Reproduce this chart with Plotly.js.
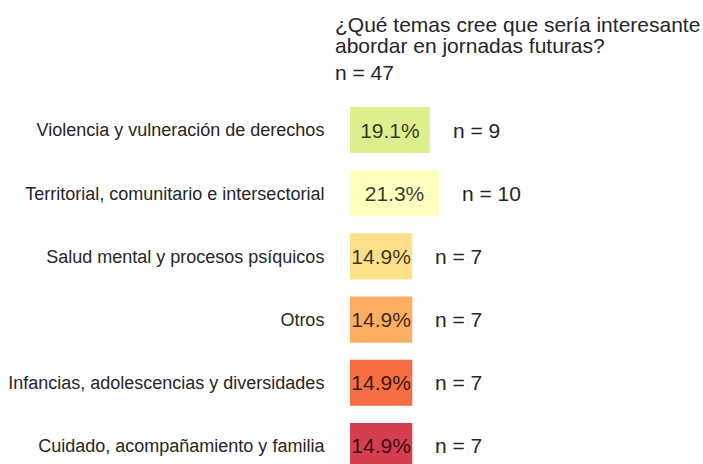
<!DOCTYPE html>
<html>
<head>
<meta charset="utf-8">
<script src="https://cdn.plot.ly/plotly-3.0.1.min.js"></script>
<style>html,body{margin:0;padding:0;background:#fff;}#chart{width:703px;height:464px;}</style>
</head>
<body>
<div id="chart"></div>
<script>
const categories = [
  "Violencia y vulneración de derechos",
  "Territorial, comunitario e intersectorial",
  "Salud mental y procesos psíquicos",
  "Otros",
  "Infancias, adolescencias y diversidades",
  "Cuidado, acompañamiento y familia"
];
const percents = [19.1, 21.3, 14.9, 14.9, 14.9, 14.9];
const counts = [9, 10, 7, 7, 7, 7];
const barColors = ["#dcef8e", "#ffffbf", "#fee08b", "#fdae61", "#f46d43", "#d53e4f"];
const titleLines = ["¿Qué temas cree que sería interesante", "abordar en jornadas futuras?", "n = 47"];

const FONT = "Liberation Sans, Arial, sans-serif";
const TXT = "#262626";

const trace = {
  type: "bar",
  orientation: "h",
  x: percents,
  y: categories,
  marker: {color: barColors, line: {width: 0}},
  text: percents.map(v => v.toFixed(1) + "%"),
  textposition: "inside",
  insidetextanchor: "middle",
  textangle: 0,
  constraintext: "none",
  textfont: {family: FONT, size: 21, color: "rgba(0,0,0,0.78)"},
  hoverinfo: "none",
  cliponaxis: true
};

const annotations = categories.map((c, i) => ({
  x: percents[i], y: c, xref: "x", yref: "y",
  text: "n = " + counts[i], showarrow: false,
  xanchor: "left", yanchor: "middle", xshift: 21,
  font: {family: FONT, size: 21, color: TXT}
}));
const titleY = [1.1738, 1.119, 1.0481];
titleLines.forEach((t, i) => annotations.push({
  x: 333, xref: "paper", y: titleY[i], yref: "paper",
  text: t, showarrow: false, xanchor: "left", yanchor: "middle",
  font: {family: FONT, size: 21, color: TXT}
}));
const L = 350, W = 703 - 350;
annotations.forEach(a => { if (a.xref === "paper") a.x = (a.x - L) / W; });

const layout = {
  width: 703, height: 464,
  margin: {l: L, r: 0, t: 90, b: 0, pad: 0},
  paper_bgcolor: "#fff", plot_bgcolor: "#fff",
  showlegend: false,
  bargap: 0.27,
  font: {family: FONT, color: TXT},
  xaxis: {range: [0, W / 4.18], visible: false, fixedrange: true},
  yaxis: {
    type: "category",
    categoryorder: "array", categoryarray: categories,
    range: [5.285, -0.633],
    showgrid: false, zeroline: false, showline: false,
    ticks: "outside", ticklen: 21, tickcolor: "rgba(0,0,0,0)",
    tickfont: {family: FONT, size: 18, color: TXT},
    fixedrange: true
  },
  annotations: annotations
};

Plotly.newPlot("chart", [trace], layout, {displayModeBar: false, staticPlot: true});
</script>
</body>
</html>
